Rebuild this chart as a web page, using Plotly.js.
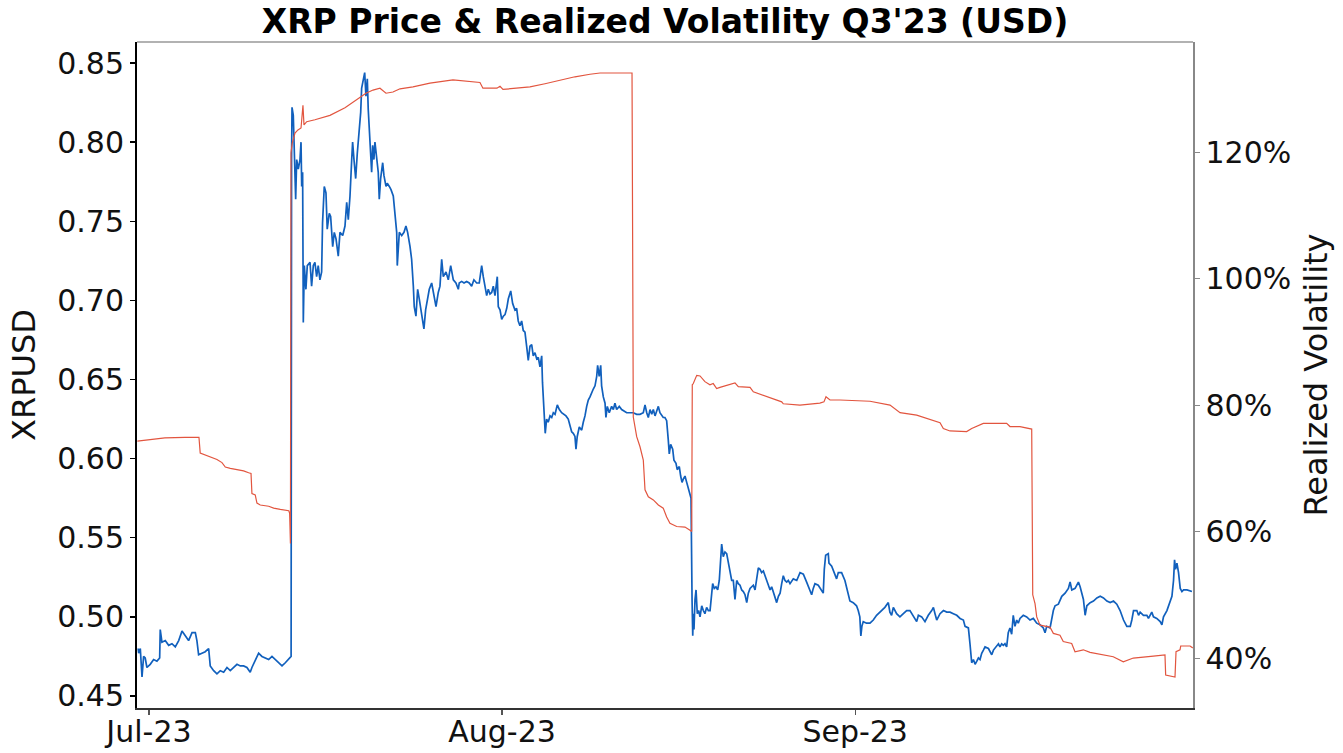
<!DOCTYPE html>
<html>
<head>
<meta charset="utf-8">
<script src="https://cdn.plot.ly/plotly-3.0.1.min.js"></script>
<style>
  html, body { margin: 0; padding: 0; background: #ffffff; }
  #chart { width: 1343px; height: 753px; }
</style>
</head>
<body>
<div id="chart"></div>
<script>
// Time is given in days since 2023-07-01 00:00 UTC
const startDate = Date.UTC(2023, 6, 1);

const priceDay = [
 -0.95,-0.90,-0.76,-0.61,-0.47,-0.33,-0.18,0.11,0.41,0.70,0.94,0.99,1.14,1.43,1.73,2.02,2.31,2.61,2.90,3.19,3.48,3.78,4.07,4.21,4.36,4.65,4.94,5.24,5.38,5.68,5.97,6.26,6.56,6.85,7.14,7.44,7.73,8.02,8.31,8.60,8.89,9.04,9.33,9.63,9.92,10.21,10.51,10.80,11.09,11.39,11.68,11.97,12.26,12.40,12.48,
 12.52,12.56,12.67,12.73,12.82,12.88,12.97,13.11,13.26,13.35,13.41,13.49,13.55,13.64,13.78,13.90,14.14,14.28,14.43,14.57,14.72,14.86,15.01,15.16,15.24,15.39,15.54,15.65,15.83,15.95,16.13,16.27,16.42,16.62,16.77,17.01,17.21,17.36,17.50,17.65,17.80,17.88,18.00,18.15,18.29,18.44,18.59,18.67,18.81,18.94,19.05,19.17,19.25,19.34,19.47,19.55,19.64,19.75,19.84,19.99,20.13,20.22,20.34,20.52,20.63,20.81,20.92,21.10,21.25,21.45,21.60,21.75,21.80,21.98,22.19,22.39,22.56,22.71,22.92,23.06,23.21,23.29,23.44,23.59,23.73,23.94,24.14,24.29,24.43,24.61,24.82,25.02,25.20,25.40,25.55,25.70,25.84,26.08,26.28,26.49,26.72,26.95,27.16,27.24,27.45,27.66,27.89,28.12,28.33,28.53,28.77,29.00,29.21,29.35,29.50,29.65,29.79,29.94,30.09,30.23,30.38,30.58,30.67,30.82,30.97,31.11,31.26,31.41,31.55,31.76,31.93,32.13,32.28,32.42,32.57,32.72,32.86,33.01,33.16,33.30,33.45,33.60,33.74,33.89,34.04,34.18,34.33,34.48,34.55,34.68,34.79,34.91,35.05,35.21,35.36,35.50,35.65,35.85,36.03,36.23,36.44,36.61,36.81,36.96,37.11,37.25,37.40,37.49,37.60,37.78,37.99,38.13,38.28,38.43,38.57,38.72,38.87,39.01,39.16,39.31,39.39,39.53,39.66,39.74,39.89,40.04,40.12,40.24,40.41,40.62,40.77,40.91,41.06,41.29,41.50,41.70,41.94,42.23,42.52,42.82,43.11,43.40,43.55,43.70,43.84,43.99,44.14,44.28,44.43,44.57,44.72,44.86,45.01,45.15,45.30,45.45,45.59,45.68,45.80,45.98,46.09,46.27,46.38,46.56,46.68,46.80,46.91,47.06,47.21,47.35,47.50,47.59,47.68,47.74,47.79,47.85,47.94,48.03,48.14,48.26,48.38,48.53,48.67,48.81,48.96,49.11,49.26,49.40,49.49,49.63,49.78,49.93,50.07,50.19,50.28,50.42,50.57,50.72,50.86,51.01,51.16,51.30,51.45,51.60,51.74,51.89,52.04,52.18,52.33,52.48,52.62,52.77,52.91,53.06,53.21,53.36,53.50,53.65,53.79,53.94,54.09,54.24,54.38,54.53,54.67,54.82,54.97,55.11,55.26,55.41,55.55,55.69,55.84,55.99,56.13,56.28,56.57,56.87,57.16,57.45,57.74,57.89,58.18,58.32,58.47,58.76,59.06,59.20,59.29,59.41,59.64,59.70,59.94,60.08,60.37,60.52,60.81,61.10,61.39,61.54,61.83,62.12,62.27,62.41,62.50,62.59,62.71,63.00,63.30,63.59,63.88,64.03,64.32,64.61,64.91,65.05,65.20,65.35,65.64,65.93,66.23,66.52,66.81,67.11,67.25,67.40,67.55,67.84,68.13,68.42,68.72,68.87,69.01,69.16,69.45,69.75,70.04,70.33,70.62,70.92,71.21,71.50,71.65,71.94,72.08,72.23,72.38,72.53,72.68,72.82,72.96,73.11,73.26,73.40,73.70,73.99,74.14,74.43,74.58,74.71,74.86,75.01,75.15,75.30,75.44,75.59,75.74,75.88,76.03,76.18,76.32,76.47,76.76,77.06,77.35,77.64,77.94,78.23,78.52,78.67,78.82,79.11,79.26,79.40,79.55,79.84,80.14,80.43,80.72,80.87,81.02,81.31,81.60,81.75,82.04,82.19,82.34,82.63,82.92,83.22,83.51,83.80,84.10,84.39,84.68,84.97,85.26,85.56,85.85,86.15,86.29,86.44,86.73,86.88,87.02,87.31,87.61,87.75,88.04,88.19,88.48,88.78,88.93,89.07,89.37,89.66,89.81,89.95,90.04,90.13,90.25,90.39,90.54,90.69,90.83,91.13,91.42,91.57
];

const priceUSD = [
 0.480,0.477,0.480,0.462,0.475,0.474,0.468,0.470,0.473,0.472,0.474,0.492,0.484,0.485,0.482,0.483,0.481,0.485,0.491,0.488,0.485,0.490,0.490,0.485,0.476,0.477,0.478,0.480,0.469,0.466,0.464,0.466,0.465,0.468,0.466,0.468,0.470,0.469,0.469,0.468,0.465,0.468,0.472,0.477,0.475,0.474,0.473,0.475,0.473,0.471,0.469,0.471,0.473,0.474,0.475,
 0.790,0.822,0.817,0.802,0.789,0.764,0.789,0.783,0.789,0.800,0.772,0.781,0.686,0.722,0.707,0.722,0.724,0.709,0.722,0.724,0.715,0.722,0.713,0.718,0.749,0.772,0.768,0.745,0.755,0.753,0.734,0.743,0.739,0.728,0.743,0.741,0.747,0.762,0.751,0.766,0.789,0.800,0.789,0.777,0.793,0.804,0.819,0.834,0.840,0.844,0.829,0.840,0.821,0.808,0.793,0.781,0.798,0.789,0.800,0.791,0.781,0.764,0.777,0.787,0.779,0.772,0.774,0.772,0.770,0.766,0.753,0.743,0.722,0.743,0.741,0.743,0.747,0.743,0.734,0.726,0.709,0.696,0.690,0.707,0.701,0.692,0.682,0.694,0.701,0.707,0.711,0.703,0.696,0.705,0.709,0.726,0.715,0.718,0.713,0.722,0.713,0.711,0.707,0.711,0.712,0.711,0.712,0.711,0.709,0.713,0.711,0.711,0.722,0.715,0.709,0.703,0.707,0.704,0.705,0.709,0.703,0.715,0.696,0.694,0.688,0.690,0.691,0.695,0.701,0.706,0.698,0.694,0.695,0.687,0.684,0.687,0.681,0.680,0.671,0.662,0.671,0.672,0.665,0.667,0.663,0.664,0.658,0.665,0.648,0.633,0.616,0.625,0.623,0.627,0.626,0.629,0.628,0.634,0.631,0.629,0.628,0.627,0.625,0.620,0.617,0.616,0.614,0.606,0.614,0.620,0.618,0.623,0.627,0.633,0.637,0.639,0.642,0.644,0.646,0.652,0.659,0.652,0.659,0.646,0.639,0.635,0.626,0.633,0.629,0.633,0.631,0.635,0.631,0.633,0.631,0.630,0.629,0.629,0.629,0.628,0.628,0.629,0.634,0.629,0.626,0.631,0.628,0.631,0.627,0.630,0.633,0.629,0.627,0.626,0.626,0.624,0.612,0.603,0.609,0.606,0.599,0.597,0.593,0.595,0.589,0.585,0.587,0.589,0.585,0.581,0.576,0.575,0.511,0.488,0.502,0.492,0.511,0.517,0.502,0.504,0.500,0.507,0.504,0.502,0.506,0.504,0.504,0.515,0.521,0.518,0.519,0.517,0.523,0.536,0.546,0.538,0.541,0.540,0.534,0.528,0.523,0.523,0.511,0.523,0.521,0.520,0.517,0.516,0.514,0.509,0.515,0.518,0.519,0.520,0.517,0.523,0.531,0.530,0.528,0.529,0.526,0.523,0.520,0.517,0.519,0.516,0.513,0.509,0.513,0.515,0.521,0.526,0.523,0.522,0.523,0.521,0.524,0.523,0.528,0.527,0.522,0.519,0.514,0.518,0.521,0.520,0.517,0.515,0.530,0.539,0.540,0.534,0.532,0.529,0.524,0.528,0.528,0.523,0.513,0.510,0.509,0.507,0.504,0.500,0.488,0.494,0.497,0.496,0.496,0.498,0.501,0.502,0.504,0.506,0.509,0.503,0.501,0.506,0.502,0.500,0.502,0.504,0.504,0.500,0.499,0.497,0.501,0.500,0.497,0.501,0.504,0.506,0.502,0.498,0.502,0.504,0.503,0.503,0.502,0.501,0.499,0.498,0.494,0.493,0.483,0.471,0.473,0.470,0.472,0.474,0.473,0.477,0.479,0.481,0.480,0.476,0.479,0.482,0.483,0.481,0.483,0.482,0.483,0.481,0.490,0.493,0.489,0.501,0.494,0.498,0.496,0.499,0.501,0.500,0.498,0.499,0.496,0.495,0.493,0.490,0.494,0.493,0.499,0.504,0.507,0.508,0.513,0.515,0.518,0.522,0.517,0.518,0.522,0.519,0.511,0.501,0.507,0.509,0.510,0.512,0.513,0.512,0.510,0.509,0.510,0.508,0.504,0.498,0.494,0.494,0.498,0.504,0.504,0.501,0.503,0.501,0.501,0.499,0.503,0.500,0.499,0.497,0.495,0.500,0.504,0.510,0.513,0.523,0.536,0.530,0.534,0.528,0.518,0.516,0.517,0.517,0.516,0.516
];

const volDay = [
 -1.02,0.09,1.40,3.16,4.39,4.50,4.65,5.24,5.68,5.97,6.41,6.70,7.14,7.73,8.31,8.75,8.96,9.04,9.33,9.48,9.77,10.51,10.65,10.95,11.53,12.27,12.35,12.42,12.47,12.58,12.82,13.08,13.35,13.52,13.61,13.85,14.57,15.89,17.21,18.52,19.05,19.67,20.28,20.81,21.42,22.04,23.18,24.67,26.69,29.06,29.32,30.55,30.82,31.08,32.13,33.45,34.77,36.08,37.40,38.72,39.60,42.41,42.47,42.52,42.82,43.11,43.40,43.55,43.84,44.28,44.72,45.15,45.45,45.74,46.33,47.06,47.50,47.65,47.70,47.79,48.09,48.38,48.81,49.25,49.54,49.84,50.13,51.01,51.45,51.74,52.77,53.06,53.64,54.23,55.11,55.55,55.69,57.15,58.90,59.26,59.44,59.79,60.67,63.30,65.06,65.94,67.40,68.86,69.45,69.74,70.32,71.79,72.23,73.25,75.30,75.59,76.47,77.50,77.59,77.79,77.94,78.23,79.10,79.40,79.98,80.27,81.01,81.30,82.03,82.62,83.49,84.66,85.54,86.42,88.18,89.20,89.26,90.08,90.17,90.52,90.58,91.40,91.64
];

const volPct = [
 74.3,74.5,74.8,74.9,74.9,72.4,72.3,71.9,71.6,71.4,70.9,70.2,70.0,69.8,69.6,69.3,69.2,66.0,65.8,64.5,64.2,64.0,63.9,63.7,63.5,63.3,62.9,58.1,119.9,121.4,123.0,123.5,123.8,127.4,124.3,124.8,125.1,125.8,127.0,128.7,129.3,129.8,130.1,129.3,129.5,130.0,130.3,130.9,131.4,131.0,130.1,130.1,130.4,129.9,130.1,130.3,130.8,131.4,131.9,132.3,132.5,132.5,78.7,78.1,75.0,73.4,71.3,66.6,65.5,65.0,64.2,63.7,62.3,61.3,60.8,60.7,60.2,60.0,83.2,83.4,84.7,84.6,83.7,83.2,83.4,82.6,82.8,83.2,83.5,82.9,82.8,82.1,81.7,81.3,80.8,80.5,80.2,80.0,80.3,80.5,81.3,80.8,80.8,80.6,80.0,78.8,78.4,77.6,77.2,76.3,75.9,75.8,76.3,77.1,77.1,76.6,76.6,76.2,50.0,48.6,46.5,45.2,44.9,43.9,43.6,42.6,42.3,41.0,41.3,40.9,40.6,40.2,39.4,40.0,40.3,40.5,37.3,37.0,41.0,41.3,41.9,41.9,41.6
];

const priceTicks = [0.45, 0.50, 0.55, 0.60, 0.65, 0.70, 0.75, 0.80, 0.85];
const volTicks = [40, 60, 80, 100, 120];
const monthTickDays = [0, 31, 62];
const monthTickText = ['Jul-23', 'Aug-23', 'Sep-23'];
const xRangeDays = [-1.05, 91.66];

function dayToDate(d) {
  return new Date(startDate + d * 86400000).toISOString().slice(0, 19).replace('T', ' ');
}

const FONT = 'DejaVu Sans, Arial, sans-serif';

const priceTrace = {
  x: priceDay.map(dayToDate),
  y: priceUSD,
  type: 'scatter',
  mode: 'lines',
  name: 'XRPUSD',
  line: { color: '#1160bd', width: 1.7 },
  yaxis: 'y',
  hoverinfo: 'x+y'
};

const volTrace = {
  x: volDay.map(dayToDate),
  y: volPct,
  type: 'scatter',
  mode: 'lines',
  name: 'Realized Volatility',
  line: { color: '#e2553f', width: 1.2 },
  yaxis: 'y2',
  hoverinfo: 'x+y'
};

const layout = {
  width: 1343,
  height: 753,
  paper_bgcolor: '#ffffff',
  plot_bgcolor: '#ffffff',
  showlegend: false,
  margin: { l: 137, r: 150, t: 42, b: 45, pad: 0 },
  font: { family: FONT, color: '#111111', size: 30 },
  title: {
    text: "XRP Price & Realized Volatility Q3'23 (USD)",
    font: { family: FONT, size: 33, weight: 700, color: '#000000' },
    x: 0.5, xref: 'paper', xanchor: 'center',
    y: 0.971, yref: 'container', yanchor: 'middle'
  },
  xaxis: {
    type: 'date',
    range: xRangeDays.map(dayToDate),
    tickmode: 'array',
    tickvals: monthTickDays.map(dayToDate),
    ticktext: monthTickText,
    showgrid: false,
    zeroline: false,
    showline: true,
    linecolor: '#333333',
    linewidth: 2,
    ticks: 'outside',
    ticklen: 5,
    tickwidth: 1.2,
    tickcolor: '#555555',
    ticklabelstandoff: -9,
    tickfont: { family: FONT, size: 30, color: '#111111' }
  },
  yaxis: {
    range: [0.4424, 0.8633],
    tickmode: 'array',
    tickvals: priceTicks,
    ticktext: priceTicks.map(v => v.toFixed(2)),
    showgrid: false,
    zeroline: false,
    showline: true,
    linecolor: '#000000',
    linewidth: 2,
    ticks: 'outside',
    ticklen: 5,
    tickwidth: 1.5,
    tickcolor: '#000000',
    tickfont: { family: FONT, size: 30, color: '#111111' },
    title: { text: 'XRPUSD', font: { family: FONT, size: 32, color: '#111111' }, standoff: 12 }
  },
  yaxis2: {
    overlaying: 'y',
    side: 'right',
    range: [32.1, 137.4],
    tickmode: 'array',
    tickvals: volTicks,
    ticktext: volTicks.map(v => v + '%'),
    showgrid: false,
    zeroline: false,
    showline: true,
    linecolor: '#888888',
    linewidth: 1.5,
    ticks: 'outside',
    ticklen: 5,
    tickwidth: 1,
    tickcolor: '#888888',
    tickfont: { family: FONT, size: 30, color: '#111111' },
    title: { text: 'Realized Volatility', font: { family: FONT, size: 32, color: '#111111' }, standoff: 14 }
  },
  shapes: [
    { type: 'line', xref: 'paper', yref: 'paper', x0: 0, x1: 1, y0: 1, y1: 1,
      line: { color: '#999999', width: 1.5 } }
  ]
};

Plotly.newPlot('chart', [priceTrace, volTrace], layout, { displayModeBar: false, staticPlot: true });
</script>
</body>
</html>
